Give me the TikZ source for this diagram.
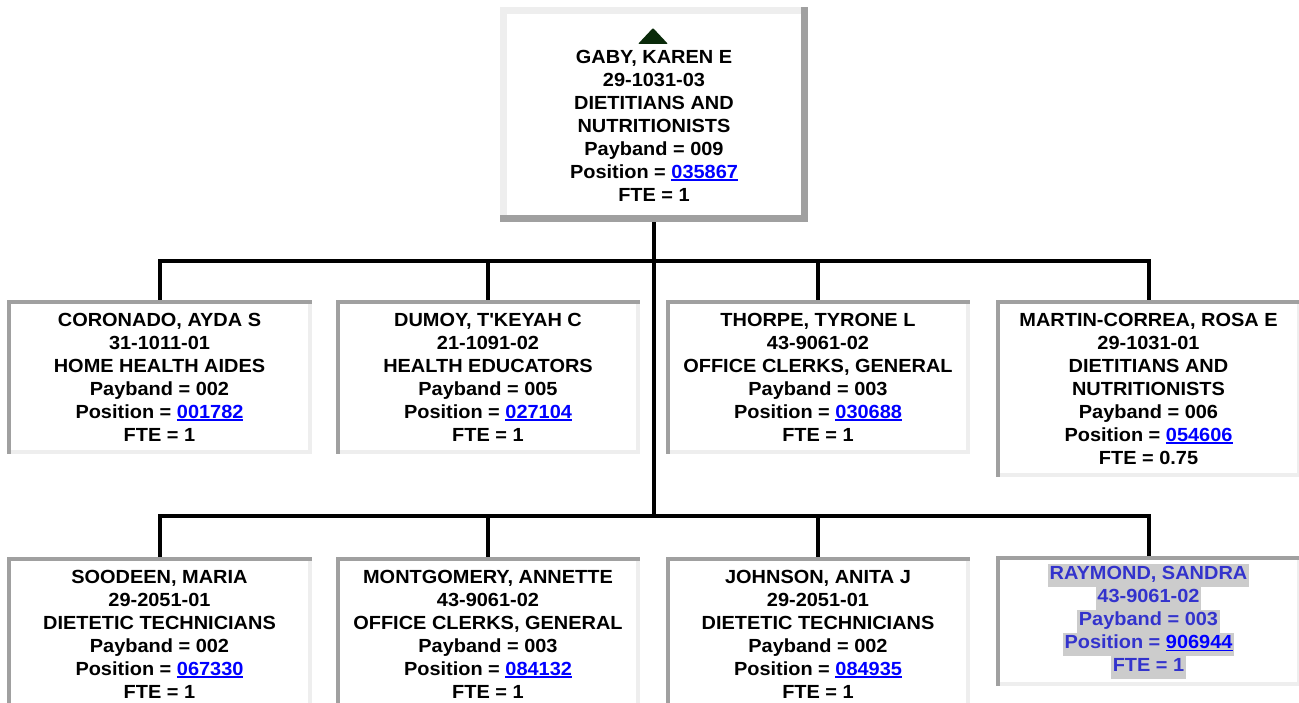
\documentclass[tikz,border=0pt]{standalone}
\usepackage{fontspec}
\setmainfont{Liberation Sans}[FakeStretch=1.05]
\usetikzlibrary{backgrounds}
\definecolor{linkblue}{HTML}{0000FF}
\definecolor{bevdark}{HTML}{A0A0A0}
\definecolor{bevlight}{HTML}{EEEEEE}
\definecolor{selblue}{HTML}{3333CC}
\definecolor{selgray}{HTML}{CCCCCC}
\definecolor{upgreen}{HTML}{0A2A0A}
\setlength{\fboxsep}{0pt}
\newcommand{\boxfont}{\fontsize{19}{23}\selectfont\bfseries}
\newcommand{\poslink}[1]{{\color{linkblue}\setbox0\hbox{#1}\rlap{\rule[-2.6pt]{\wd0}{1.8pt}}\box0}}
\newcommand{\selline}[1]{\colorbox{selgray}{\strut\kern1.5pt#1\kern1.5pt}}

\begin{document}
\begin{tikzpicture}[x=1pt,y=-1pt,
  person/.style={minimum width=300pt,minimum height=150pt,inner sep=0pt,
    align=center,font=\boxfont,anchor=north},
  wire/.style={line width=4pt},
  sunk/.style={line width=4pt,line cap=rect},
  raised/.style={line width=7pt,line cap=rect}]
\useasboundingbox (0,0) rectangle (1299,703);
% supervisor
\node[minimum width=301pt,minimum height=208pt] (gaby) at (654,114.5) {};
\node[font=\boxfont,align=center,inner sep=0pt] (gabytext) at (654,126) {GABY, KAREN E\\29-1031-03\\DIETITIANS AND\\NUTRITIONISTS\\Payband = 009\\Position = \poslink{035867}\\FTE = 1};
\draw[raised,bevlight] (gaby.south west) |- (gaby.north east);
\draw[raised,bevdark] (gaby.south west) -| (gaby.north east);
\fill[upgreen,rounded corners=1pt] (638,44) -- (668,44) -- (653,28) -- cycle;
% first row
\node[person] (coronado) at (159.5,302) {CORONADO, AYDA S\\31-1011-01\\HOME HEALTH AIDES\\Payband = 002\\Position = \poslink{001782}\\FTE = 1};
\node[person] (dumoy) at (488,302) {DUMOY, T\textquotesingle KEYAH C\\21-1091-02\\HEALTH EDUCATORS\\Payband = 005\\Position = \poslink{027104}\\FTE = 1};
\node[person] (thorpe) at (818,302) {THORPE, TYRONE L\\43-9061-02\\OFFICE CLERKS, GENERAL\\Payband = 003\\Position = \poslink{030688}\\FTE = 1};
\node[person,minimum height=173pt] (martin) at (1148.5,302) {MARTIN-CORREA, ROSA E\\29-1031-01\\DIETITIANS AND\\NUTRITIONISTS\\Payband = 006\\Position = \poslink{054606}\\FTE = 0.75};
% second row
\node[person] (soodeen) at (159.5,559) {SOODEEN, MARIA\\29-2051-01\\DIETETIC TECHNICIANS\\Payband = 002\\Position = \poslink{067330}\\FTE = 1};
\node[person] (montgomery) at (488,559) {MONTGOMERY, ANNETTE\\43-9061-02\\OFFICE CLERKS, GENERAL\\Payband = 003\\Position = \poslink{084132}\\FTE = 1};
\node[person] (johnson) at (818,559) {JOHNSON, ANITA J\\29-2051-01\\DIETETIC TECHNICIANS\\Payband = 002\\Position = \poslink{084935}\\FTE = 1};
\node[person,minimum height=126pt,text=selblue] (raymond) at (1148.5,558) {\selline{RAYMOND, SANDRA}\\\selline{43-9061-02}\\\selline{Payband = 003}\\\selline{Position = \poslink{906944}}\\\selline{FTE = 1}};
\foreach \n in {coronado,dumoy,thorpe,martin,soodeen,montgomery,johnson,raymond} {
  \draw[sunk,bevlight] (\n.south west) -| (\n.north east);
  \draw[sunk,bevdark] (\n.south west) |- (\n.north east);
}
% connectors
\coordinate (bus1) at (654,261);
\coordinate (bus2) at (654,515.5);
\begin{scope}[on background layer]
\draw[wire] (gaby) -- (bus2);
\foreach \n in {coronado,dumoy,thorpe,martin} \draw[wire] (bus1) -| (\n.north);
\foreach \n in {soodeen,montgomery,johnson,raymond} \draw[wire] (bus2) -| (\n.north);
\end{scope}
\end{tikzpicture}
\end{document}
